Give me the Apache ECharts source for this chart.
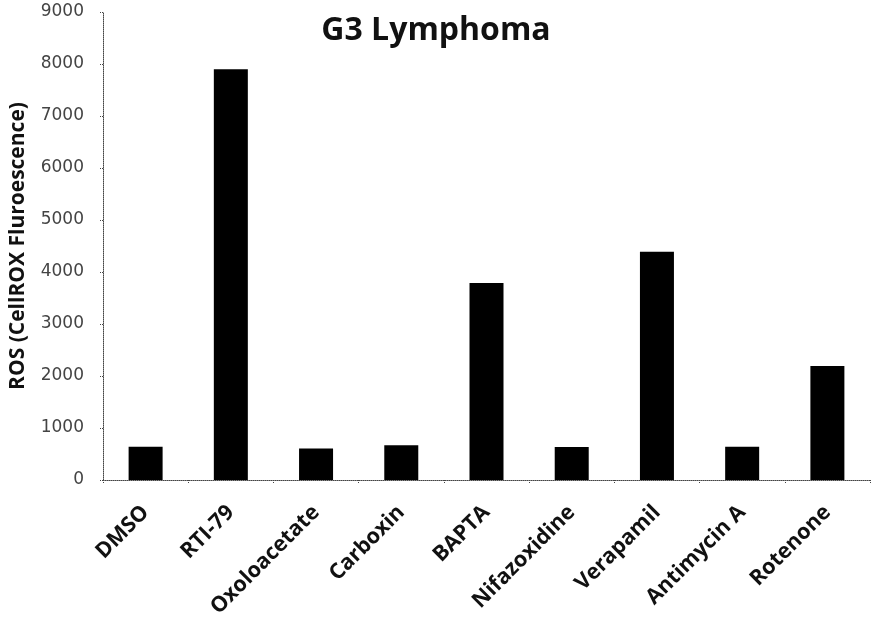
<!DOCTYPE html>
<html>
<head>
<meta charset="utf-8">
<script src="https://cdn.jsdelivr.net/npm/echarts@6/dist/echarts.min.js"></script>
<style>html,body{margin:0;padding:0;background:#fff}#c{width:871px;height:622px}</style>
</head>
<body>
<div id="c"></div>
<script>
const categories = ["DMSO", "RTI-79", "Oxoloacetate", "Carboxin", "BAPTA", "Nifazoxidine", "Verapamil", "Antimycin A", "Rotenone"];
const values = [640, 7900, 605, 670, 3790, 637, 4390, 640, 2190];
const yTicks = [0, 1000, 2000, 3000, 4000, 5000, 6000, 7000, 8000, 9000];
const titleText = "G3 Lymphoma";
const yName = "ROS (CellROX Fluroescence)";

const chart = echarts.init(document.getElementById('c'));
chart.setOption({
  animation: false,
  backgroundColor: '#fff',
  title: {
    text: titleText, left: 431, top: 10, textAlign: 'center',
    textStyle: {fontFamily: 'Open Sans', fontWeight: 'bold', fontSize: 32, color: '#111'}
  },
  grid: {left: 100, right: 1, top: 12, bottom: 142},
  xAxis: {
    type: 'category', data: categories,
    axisLine: {lineStyle: {color: '#444', type: 'dotted', width: 1}},
    axisTick: {show: true, length: 4, lineStyle: {color: '#444', type: 'dotted'}},
    axisLabel: {rotate: 45, interval: 0, margin: 29, fontFamily: 'Open Sans', fontWeight: 'bold', fontSize: 21.5, color: '#111'}
  },
  yAxis: {
    type: 'value', min: yTicks[0], max: yTicks[yTicks.length - 1], interval: 1000,
    name: yName, nameLocation: 'middle', nameGap: 74, nameRotate: 90,
    nameTextStyle: {fontFamily: 'Open Sans', fontWeight: 'bold', fontSize: 21, color: '#111'},
    axisLine: {show: true, lineStyle: {color: '#444', type: 'dotted', width: 1}},
    axisTick: {show: true, length: 4, lineStyle: {color: '#444', type: 'dotted'}},
    splitLine: {show: false},
    axisLabel: {margin: 19, fontFamily: 'DejaVu Sans', fontSize: 17, color: '#444', formatter: v => String(v)}
  },
  series: [{
    type: 'bar', data: values, barWidth: 34,
    itemStyle: {color: '#000'}
  }]
});
</script>
</body>
</html>
